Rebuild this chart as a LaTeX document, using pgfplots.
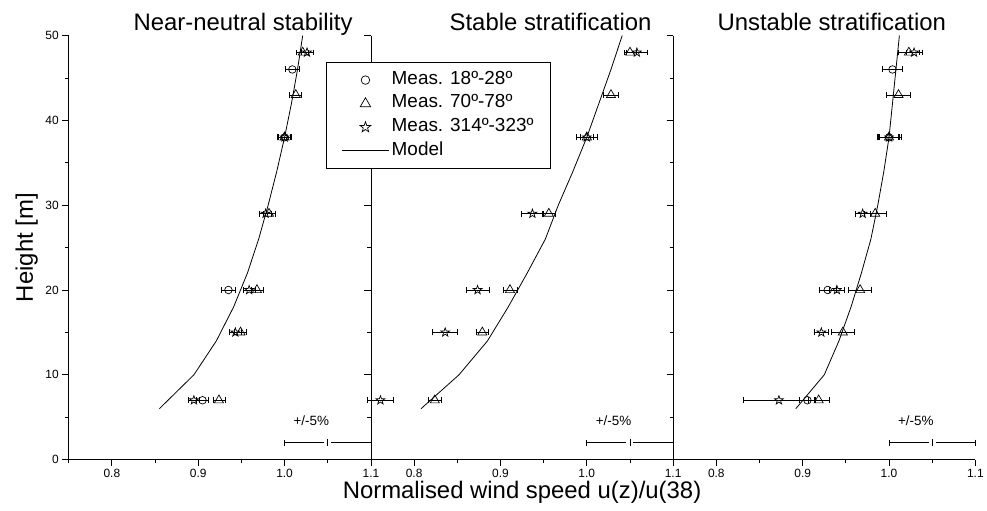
\documentclass[border=0pt]{standalone}
\usepackage{fontspec}
\setmainfont{Liberation Sans}
\usepackage{pgfplots}
\pgfplotsset{compat=1.18}

% open five-pointed star
\pgfdeclareplotmark{ostar}{%
  \pgfpathmoveto{\pgfpointpolar{90}{\pgfplotmarksize}}%
  \pgfpathlineto{\pgfpointpolar{126}{0.4\pgfplotmarksize}}%
  \pgfpathlineto{\pgfpointpolar{162}{\pgfplotmarksize}}%
  \pgfpathlineto{\pgfpointpolar{198}{0.4\pgfplotmarksize}}%
  \pgfpathlineto{\pgfpointpolar{234}{\pgfplotmarksize}}%
  \pgfpathlineto{\pgfpointpolar{270}{0.4\pgfplotmarksize}}%
  \pgfpathlineto{\pgfpointpolar{306}{\pgfplotmarksize}}%
  \pgfpathlineto{\pgfpointpolar{342}{0.4\pgfplotmarksize}}%
  \pgfpathlineto{\pgfpointpolar{18}{\pgfplotmarksize}}%
  \pgfpathlineto{\pgfpointpolar{54}{0.4\pgfplotmarksize}}%
  \pgfpathclose
  \pgfusepathqstroke}
% centre tick of the +/-5% bar, with a small gap
\pgfdeclareplotmark{gapbar}{%
  \pgfpathrectangle{\pgfpoint{-3.5pt}{-1.5pt}}{\pgfpoint{7pt}{3pt}}%
  \pgfsetfillcolor{white}\pgfusepathqfill
  \pgfpathmoveto{\pgfpoint{0pt}{-\pgfplotmarksize}}%
  \pgfpathlineto{\pgfpoint{0pt}{\pgfplotmarksize}}%
  \pgfusepathqstroke}

\pgfplotsset{
  panel/.style={
    width=303.6pt, height=426pt, scale only axis,
    xmin=0.75, xmax=1.1, ymin=0, ymax=50,
    axis x line*=bottom, axis y line*=left,
    axis line style={line width=0.8pt, -},
    xtick={0.8,0.9,1.0,1.1}, minor xtick={0.75,0.85,0.95,1.05},
    ytick={0,10,...,50}, minor ytick={5,15,...,45},
    tick align=outside, tick style={line width=0.8pt, black},
    major tick length=6.5pt, minor tick length=3.5pt,
    /pgf/number format/assume math mode=true,
    ticklabel style={font=\fontsize{12}{14}\selectfont},
    x tick label style={/pgf/number format/.cd, fixed, fixed zerofill, precision=1, /tikz/.cd},
    every axis title/.style={anchor=base, yshift=5pt, font=\fontsize{24}{29}\selectfont},
    clip=false,
  },
  meas/.style={only marks, black, line width=0.7pt,
    /pgfplots/error bars/x dir=both, /pgfplots/error bars/x explicit,
    /pgfplots/error bars/error bar style={line width=0.7pt},
    /pgfplots/error bars/error mark options={rotate=90, mark size=3pt, line width=0.7pt}},
  circ/.style={mark=o, mark size=3.8pt, meas},
  tri/.style={mark=triangle, mark size=5.3pt, meas},
  sta/.style={mark=ostar, mark size=4.6pt, meas},
  model/.style={black, line width=0.8pt, no marks},
  scalebar/.style={only marks, black, mark=gapbar, mark size=3.5pt, line width=0.7pt,
    /pgfplots/error bars/x dir=both, /pgfplots/error bars/x explicit,
    /pgfplots/error bars/error bar style={line width=0.7pt},
    /pgfplots/error bars/error mark options={rotate=90, mark size=3pt, line width=0.7pt}},
}

\begin{document}
\begin{tikzpicture}

% ---------------- near-neutral
\begin{axis}[panel, name=p1,
  title={Near-neutral stability}, title style={at={(0.577,1)}},
  ylabel={Height [m]},
  every axis y label/.style={at={(axis description cs:-0.1186,0.5)}, rotate=90, anchor=base, font=\fontsize{24}{29}\selectfont},
]
\addplot[circ] table[x=x, y=y, x error=ex] {
x y ex
1.009 46 0.008
1.000 38 0.008
0.935 20 0.008
0.905 7 0.007
};
\addplot[tri] table[x=x, y=y, x error=ex] {
x y ex
1.021 48 0.007
1.013 43 0.007
1.000 38 0.008
0.982 29 0.007
0.968 20 0.007
0.949 15 0.007
0.924 7 0.007
};
\addplot[sta] table[x=x, y=y, x error=ex] {
x y ex
1.026 48 0.007
1.000 38 0.007
0.978 29 0.007
0.959 20 0.007
0.943 15 0.007
0.895 7 0.006
};
\addplot[model] table {
0.855 6
0.895 10
0.921 14
0.941 18
0.957 22
0.970 26
0.981 30
0.991 34
1.000 38
1.008 42
1.015 46
1.021 50
};
\addplot[scalebar] coordinates {(1.05,2) +- (0.05,0)};
\node[font=\fontsize{13.5}{16}\selectfont] at (axis cs:1.031,4.6) {+/-5\%};
\end{axis}

% ---------------- stable
\begin{axis}[panel, name=p2, at={(p1.south east)}, anchor=south west,
  yticklabels={},
  title={Stable stratification}, title style={at={(0.5945,1)}},
  xlabel={Normalised wind speed u(z)/u(38)},
  every axis x label/.style={at={(axis description cs:0.5,-0.0923)}, anchor=base, font=\fontsize{24}{29}\selectfont},
  legend image code/.code={\draw[mark repeat=2,mark phase=2,#1] plot coordinates {(0pt,0pt) (24pt,0pt) (48pt,0pt)};},
  legend cell align=left,
  legend style={at={(-0.1492,0.9366)}, anchor=north west, draw=black, line width=0.8pt, fill=white,
    inner xsep=15pt, inner ysep=5.5pt,
    nodes={inner sep=2pt, text height=14pt, text depth=5.7pt},
    /tikz/every even column/.append style={column sep=3pt},
    font=\fontsize{19}{23}\selectfont},
]
\addlegendimage{only marks, black, line width=0.7pt, mark=o, mark size=4.3pt}
\addlegendentry{Meas. 18º-28º}
\addlegendimage{only marks, black, line width=0.7pt, mark=triangle, mark size=6pt}
\addlegendentry{Meas. 70º-78º}
\addlegendimage{only marks, black, line width=0.7pt, mark=ostar, mark size=5.6pt}
\addlegendentry{Meas. 314º-323º}
\addlegendimage{black, line width=0.8pt}
\addlegendentry{Model}
\addplot[tri, forget plot] table[x=x, y=y, x error=ex] {
x y ex
1.050 48 0.007
1.028 43 0.009
1.000 38 0.008
0.956 29 0.007
0.911 20 0.008
0.879 15 0.007
0.824 7 0.008
};
\addplot[sta, forget plot] table[x=x, y=y, x error=ex] {
x y ex
1.058 48 0.012
1.000 38 0.012
0.937 29 0.0125
0.8735 20 0.0135
0.836 15 0.0145
0.761 7 0.0155
};
\addplot[model, forget plot] table {
0.808 6
0.852 10
0.885 14
0.909 18
0.931 22
0.952 26
0.967 30
0.984 34
1.000 38
1.014 42
1.028 46
1.041 50
};
\addplot[scalebar, forget plot] coordinates {(1.05,2) +- (0.05,0)};
\node[font=\fontsize{13.5}{16}\selectfont] at (axis cs:1.031,4.6) {+/-5\%};
\end{axis}

% ---------------- unstable
\begin{axis}[panel, name=p3, at={(p2.south east)}, anchor=south west,
  yticklabels={},
  title={Unstable stratification}, title style={at={(0.525,1)}},
]
\addplot[circ] table[x=x, y=y, x error=ex] {
x y ex
1.004 46 0.0115
1.000 38 0.012
0.929 20 0.010
0.9055 7 0.0095
};
\addplot[tri] table[x=x, y=y, x error=ex] {
x y ex
1.023 48 0.012
1.011 43 0.014
1.000 38 0.014
0.984 29 0.013
0.9665 20 0.0135
0.9465 15 0.0135
0.9185 7 0.0125
};
\addplot[sta] table[x=x, y=y, x error=ex] {
x y ex
1.029 48 0.009
1.000 38 0.011
0.9695 29 0.0085
0.9396 20 0.009
0.9216 15 0.008
0.8725 7 0.041
};
\addplot[model] table {
0.892 6
0.925 10
0.942 14
0.956 18
0.968 22
0.979 26
0.987 30
0.994 34
1.000 38
1.004 42
1.008 46
1.012 50
};
\addplot[scalebar] coordinates {(1.05,2) +- (0.05,0)};
\node[font=\fontsize{13.5}{16}\selectfont] at (axis cs:1.031,4.6) {+/-5\%};
\end{axis}

\path (p1.south west) ++(-69pt,-51.3pt) rectangle ++(987pt,513pt);
\end{tikzpicture}
\end{document}
